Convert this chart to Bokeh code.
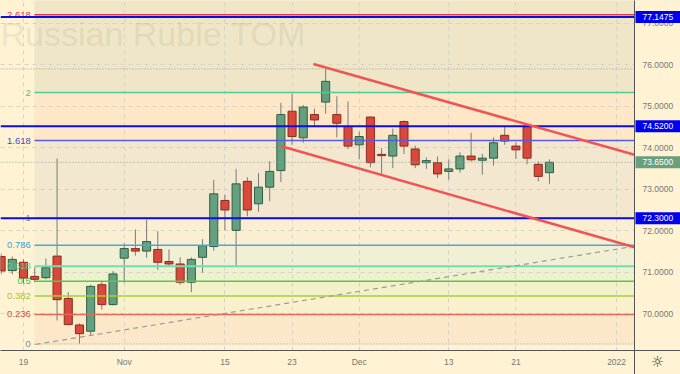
import numpy as np
from bokeh.plotting import figure
from bokeh.models import Range1d, FixedTicker, Label, ColumnDataSource, Grid
from bokeh.embed import file_html
from bokeh.resources import INLINE
from bokeh.core.properties import value

# ---------------- data ----------------
dates = ["Oct 15", "Oct 18", "Oct 19", "Oct 20", "Oct 21", "Oct 22", "Oct 25", "Oct 26", "Oct 27", "Oct 28",
         "Oct 29", "Nov 1", "Nov 2", "Nov 3", "Nov 5", "Nov 8", "Nov 9", "Nov 10", "Nov 11", "Nov 12",
         "Nov 15", "Nov 16", "Nov 17", "Nov 18", "Nov 19", "Nov 22", "Nov 23", "Nov 24", "Nov 25", "Nov 26",
         "Nov 29", "Nov 30", "Dec 1", "Dec 2", "Dec 3", "Dec 6", "Dec 7", "Dec 8", "Dec 9", "Dec 10",
         "Dec 13", "Dec 14", "Dec 15", "Dec 16", "Dec 17", "Dec 20", "Dec 21", "Dec 22", "Dec 23", "Dec 24"]
opens = [71.38, 71.04, 71.24, 70.90, 70.87, 71.39, 70.37, 69.73, 69.58, 70.70,
         70.22, 71.34, 71.57, 71.51, 71.55, 71.26, 71.20, 70.76, 71.36, 71.62,
         72.73, 72.01, 73.19, 72.65, 73.05, 73.45, 74.88, 74.24, 74.80, 75.10,
         74.80, 74.51, 74.07, 74.74, 73.84, 73.80, 74.63, 73.97, 73.64, 73.64,
         73.43, 73.49, 73.80, 73.70, 73.75, 74.30, 74.04, 74.51, 73.60, 73.40]
highs = [71.45, 71.38, 71.31, 71.12, 71.33, 73.74, 70.52, 69.77, 70.70, 70.78,
         71.03, 71.69, 72.03, 72.27, 71.99, 71.55, 71.36, 71.36, 71.80, 73.23,
         72.87, 73.49, 73.29, 73.39, 73.67, 75.08, 75.30, 75.03, 74.94, 75.90,
         75.24, 75.12, 74.39, 74.75, 73.99, 74.46, 74.66, 74.05, 73.77, 73.79,
         73.72, 73.89, 74.36, 73.85, 74.25, 74.50, 74.13, 74.55, 73.67, 73.72]
lows = [70.95, 70.95, 70.73, 70.76, 70.83, 69.84, 69.72, 69.28, 69.48, 70.10,
        70.20, 70.75, 71.40, 71.35, 71.06, 71.15, 70.70, 70.52, 70.99, 71.52,
        72.01, 71.16, 72.35, 72.46, 72.71, 73.17, 74.07, 74.12, 74.50, 74.82,
        74.25, 73.97, 73.72, 73.53, 73.37, 73.51, 73.85, 73.51, 73.49, 73.27,
        73.23, 73.40, 73.67, 73.35, 73.57, 74.07, 73.73, 73.60, 73.19, 73.13]
closes = [71.03, 71.31, 70.86, 70.83, 71.11, 70.34, 69.74, 69.52, 70.66, 70.22,
          70.96, 71.57, 71.51, 71.74, 71.24, 71.20, 70.76, 71.31, 71.64, 72.89,
          72.50, 73.13, 72.50, 73.05, 73.43, 74.80, 74.27, 74.98, 74.67, 75.60,
          74.59, 74.04, 74.27, 73.64, 73.81, 74.30, 74.04, 73.59, 73.69, 73.37,
          73.49, 73.80, 73.71, 73.75, 74.12, 74.16, 73.95, 73.75, 73.31, 73.65]

x_tick_pos = [2, 11, 20, 26, 32, 40, 46, 55]
x_tick_labels = ["19", "Nov", "15", "23", "Dec", "13", "21", "2022"]
y_ticks = [70, 71, 72, 73, 74, 75, 76, 77]

# Fibonacci retracement (0 -> 69.27, 1 -> 72.30)
fib_low, fib_high = 69.27, 72.30
fib_ratios = [0, 0.236, 0.382, 0.5, 0.618, 0.786, 1, 1.618, 2, 2.618]
fib_labels = ["0", "0.236", "0.382", "0.5", "0.618", "0.786", "1", "1.618", "2", "2.618"]
fib_line_colors = ["#9a9a9a", "#df6a58", "#a9cc3c", "#55cc45", "#74dcb0", "#4aa6e0", "#9a9a9a", "#5a5ae6", "#52c996", "#e23c3c"]
fib_text_colors = ["#8a8a8a", "#e0503f", "#9ec532", "#43c43b", "#4fd19a", "#3c9fe0", "#8a8a8a", "#4646c8", "#3cc98d", "#e23c3c"]
zone_colors = ["#fce7c9", "#faf1cc", "#f3f1c9", "#eef1cd", "#f1efd4", "#faf0d1", "#f3e7cf", "#fde7c7", "#efe6c7", "#efe6c7"]

# key horizontal levels
blue_levels = [77.1475, 74.52, 72.30]
last_price = 73.65
session_high_line = 75.90

# trend channel and support line
upper_line_x = [27.9, 56.6]
upper_line_y = [76.02, 73.83]
lower_line_x = [24.97, 56.6]
lower_line_y = [74.04, 71.60]
support_x = [3.07, 56.2]
support_y = [69.26, 71.61]

# ---------------- layout ----------------
W, H = 680, 374
BB = 24                       # height of the time scale strip
X0, X1 = -0.055, 60.71        # full canvas width in bar units
PANEL = 56.6                  # price-scale divider
px = (X1 - X0) / W            # bar units per pixel
Y0, Y1 = 69.115, 77.548       # price range of the chart pane
py = (Y1 - Y0) / (H - BB)     # price per pixel
YB = Y0 - BB * py             # bottom of canvas
fib_left = 2.98
fib_label_x = 2.65
bg = "#fff3d3"
font = "Liberation Sans"
fs = "8.5px"

p = figure(width=W, height=H, output_backend="svg", toolbar_location=None,
           x_range=Range1d(X0, X1), y_range=Range1d(YB, Y1),
           x_axis_location=None, y_axis_location=None, min_border_left=0, min_border_top=0,
           min_border_right=0, min_border_bottom=0)
p.background_fill_color = bg
p.border_fill_color = bg
p.outline_line_color = None

# grid
if len(p.xgrid) == 0:
    p.add_layout(Grid(dimension=0, ticker=FixedTicker(ticks=x_tick_pos)), "center")
if len(p.ygrid) == 0:
    p.add_layout(Grid(dimension=1, ticker=FixedTicker(ticks=y_ticks)), "center")
p.xgrid.ticker = FixedTicker(ticks=x_tick_pos)
p.ygrid.ticker = FixedTicker(ticks=y_ticks)
for g in (p.xgrid, p.ygrid):
    g.grid_line_color = "#d6d2c8"
    g.grid_line_dash = "4 4"
    g.grid_line_width = 1

# fib zones
lv = [fib_low + r * (fib_high - fib_low) for r in fib_ratios]
zone_top = lv[1:] + [Y1 + 1]
p.quad(left=fib_left, right=X1 + 1, bottom=lv, top=zone_top,
       fill_color=zone_colors, line_color=None, level="image")

# watermark
p.add_layout(Label(x=0, y=H - 33, x_units="screen", y_units="screen", text="Russian Ruble TOM",
                   text_font=font, text_font_size="34px", text_color="#8a7f5c", text_alpha=0.15,
                   text_baseline="alphabetic", level="underlay"))

# candles
src = ColumnDataSource(dict(
    x=list(range(len(dates))), o=opens, h=highs, l=lows, c=closes,
    top=[max(a, b) for a, b in zip(opens, closes)],
    bot=[min(a, b) for a, b in zip(opens, closes)],
    fill=["#64a080" if c >= o else "#d9493b" for o, c in zip(opens, closes)],
    edge=["#2e5e46" if c >= o else "#8c2b20" for o, c in zip(opens, closes)],
))
p.segment(x0="x", y0="h", x1="x", y1="l", source=src, line_color="#7a7a7a", line_width=1)
p.vbar(x="x", width=0.72, top="top", bottom="bot", source=src,
       fill_color="fill", line_color="edge", line_width=1)

# fib lines
for r, y, col in zip(fib_ratios, lv, fib_line_colors):
    if r == 0:
        p.segment(x0=[fib_left], x1=[PANEL], y0=[y], y1=[y], line_color=col, line_width=1, line_dash="1 2")
    else:
        p.segment(x0=[fib_left], x1=[PANEL], y0=[y], y1=[y], line_color=col,
                  line_width=2 if r == 0.618 else 1.5)
p.text(x=[fib_label_x] * len(lv), y=lv, text=fib_labels, text_color=fib_text_colors,
       text_align="right", text_baseline="middle", text_font=value(font), text_font_size="9.5px")

# dotted lines
p.segment(x0=[X0], x1=[PANEL], y0=[session_high_line], y1=[session_high_line],
          line_color="#9a9a9a", line_dash="1 2", line_width=1)
p.segment(x0=[X0], x1=[PANEL], y0=[last_price], y1=[last_price],
          line_color="#8aa595", line_dash="1 2", line_width=1)

# support dashed
p.line(support_x, support_y, line_color="#a09a94", line_width=1.2, line_dash="5 4")

# blue levels
p.segment(x0=[X0] * 3, x1=[PANEL] * 3, y0=blue_levels, y1=blue_levels, line_color="#0c0ce6", line_width=2)

# channel
p.line(upper_line_x, upper_line_y, line_color="#f05454", line_width=2.6)
p.line(lower_line_x, lower_line_y, line_color="#f05454", line_width=2.6)

# time scale strip
p.quad(left=[X0 - 1], right=[X1 + 1], bottom=[YB - 1], top=[Y0], fill_color=bg, line_color=None)
lab_y = Y0 - 11 * py
p.text(x=x_tick_pos, y=[lab_y] * len(x_tick_pos), text=x_tick_labels,
       text_color="#777777", text_align="center", text_baseline="middle",
       text_font=value(font), text_font_size=fs)

# price scale panel
p.quad(left=[PANEL], right=[X1 + 1], bottom=[Y0], top=[Y1 + 1], fill_color=bg, line_color=None)
lab_x = PANEL + 8 * px
p.text(x=[lab_x] * len(y_ticks), y=y_ticks, text=[f"{t:.4f}" for t in y_ticks],
       text_color="#777777", text_align="left", text_baseline="middle",
       text_font=value(font), text_font_size=fs)

box_h = 12 * py
box_levels = blue_levels + [last_price]
box_colors = ["#0000f0"] * 3 + ["#6a9f7e"]
p.quad(left=[PANEL + px] * 4, right=[X1 + 1] * 4,
       bottom=[y - box_h / 2 for y in box_levels], top=[y + box_h / 2 for y in box_levels],
       fill_color=box_colors, line_color=None)
p.text(x=[lab_x] * 4, y=box_levels, text=[f"{y:.4f}" for y in box_levels],
       text_color="white", text_align="left", text_baseline="middle",
       text_font=value(font), text_font_size=fs)

# scale borders
p.segment(x0=[X0 - 1], x1=[X1 + 1], y0=[Y0], y1=[Y0], line_color="#555555", line_width=1)
p.segment(x0=[PANEL], x1=[PANEL], y0=[YB - 1], y1=[Y1 + 1], line_color="#555555", line_width=1)

# settings icon
p.text(x=[PANEL + 23 * px], y=[lab_y], text=["☼"], text_color="#333333", text_align="center",
       text_baseline="middle", text_font=value("DejaVu Sans"), text_font_size="15px")

html = file_html(p, INLINE)
html = html.replace("<head>", "<head><style>html,body{margin:0;padding:0;background:#fff3d3;overflow:hidden;}</style>", 1)
open("out.html", "w").write(html)
